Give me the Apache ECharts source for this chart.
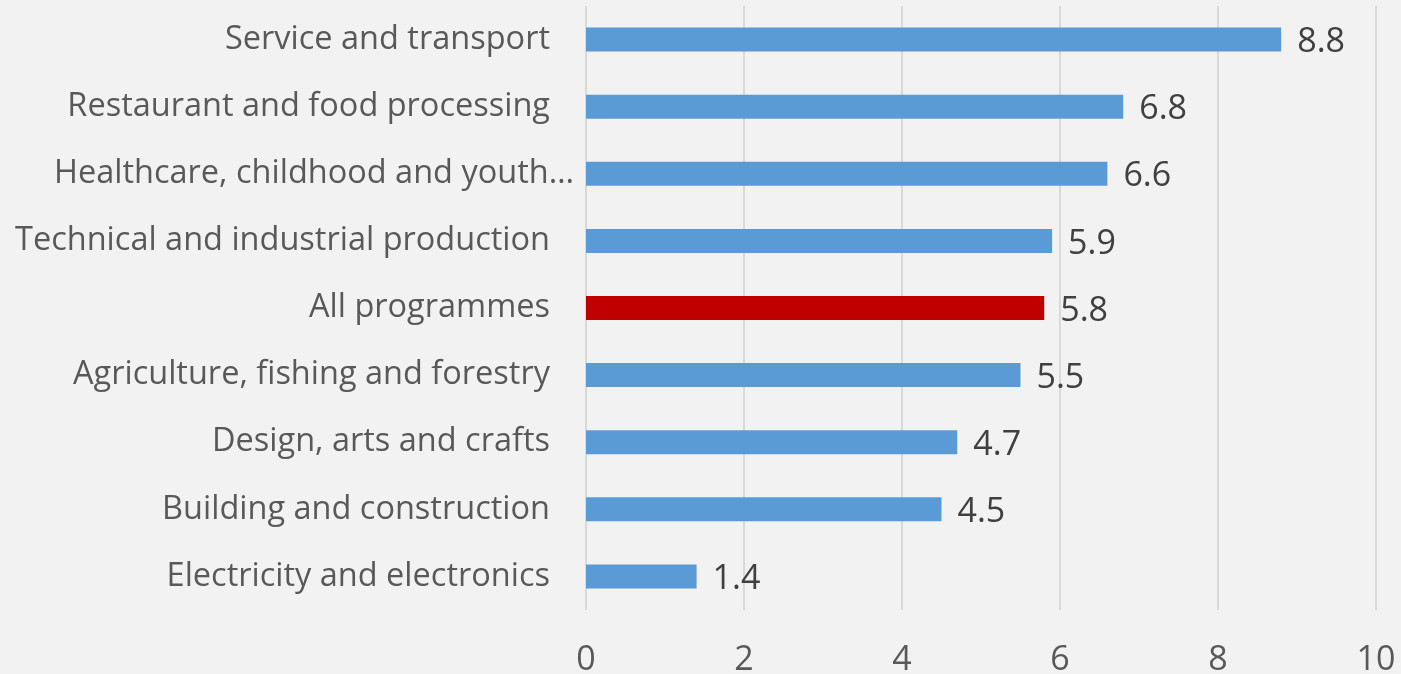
<!DOCTYPE html>
<html><head><meta charset="utf-8">
<script src="https://cdn.jsdelivr.net/npm/echarts@6/dist/echarts.min.js"></script>
<style>html,body{margin:0;padding:0;background:#F2F2F2;}#c{width:1401px;height:674px;}</style>
</head><body><div id="c"></div>
<script>
var categories = ["Service and transport","Restaurant and food processing","Healthcare, childhood and youth…","Technical and industrial production","All programmes","Agriculture, fishing and forestry","Design, arts and crafts","Building and construction","Electricity and electronics"];
var values = [8.8, 6.8, 6.6, 5.9, 5.8, 5.5, 4.7, 4.5, 1.4];
var highlight = "All programmes";
var xTicks = [0, 2, 4, 6, 8, 10];

var chart = echarts.init(document.getElementById('c'));
chart.setOption({
  backgroundColor: '#F2F2F2',
  animation: false,
  grid: {left: 586, right: 25, top: 6, bottom: 64, outerBoundsMode: 'none', containLabel: false},
  xAxis: {
    type: 'value', min: xTicks[0], max: xTicks[xTicks.length-1], interval: 2,
    axisLine: {show: false}, axisTick: {show: false},
    splitLine: {lineStyle: {color: '#D9D9D9', width: 2}},
    axisLabel: {fontFamily: 'Open Sans', fontSize: 34, color: '#595959', margin: 33}
  },
  yAxis: {
    type: 'category', inverse: true,
    data: categories.map(function(c){
      return c.slice(-1) === '…' ? {value: c, textStyle: {padding: [0, -24, 0, 0]}} : c;
    }),
    axisLine: {show: false}, axisTick: {show: false},
    axisLabel: {fontFamily: 'Open Sans', fontSize: 32.5, color: '#595959', margin: 36}
  },
  series: [{
    type: 'bar', barWidth: 24,
    data: values.map(function(v, i){
      return {value: v, itemStyle: {color: categories[i] === highlight ? '#C00000' : '#5B9BD5'}};
    }),
    label: {show: true, position: 'right', distance: 16, offset: [0, 3], fontFamily: 'Open Sans', fontSize: 34, color: '#404040'}
  }]
});
</script></body></html>
